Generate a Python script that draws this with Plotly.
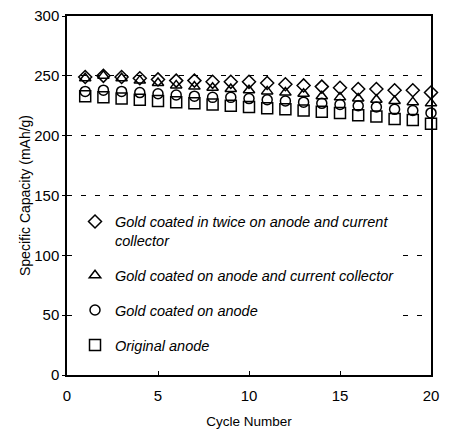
import plotly.graph_objects as go

cycles = list(range(1, 21))
twice_anode_collector = [249, 250, 249, 248, 247, 246, 246, 245, 245, 245, 244, 243, 242, 241, 240, 239, 239, 238, 238, 236]
anode_collector = [248, 250, 248, 246, 244, 242, 241, 240, 239, 238, 237, 236, 235, 233, 232, 231, 230, 229, 228, 227]
anode_only = [237, 238, 237, 236, 235, 234, 233, 232, 232, 231, 230, 229, 228, 227, 226, 225, 224, 222, 221, 219]
original = [233, 232, 231, 230, 229, 228, 227, 226, 225, 224, 223, 222, 221, 220, 219, 217, 216, 214, 213, 210]

series_names = [
    "Gold coated in twice on anode and current<br>collector",
    "Gold coated on anode and current collector",
    "Gold coated on anode",
    "Original anode",
]
x_ticks = [0, 5, 10, 15, 20]
y_ticks = [0, 50, 100, 150, 200, 250, 300]

sans = "Liberation Sans, Arial, sans-serif"

fig = go.Figure()
series = [twice_anode_collector, anode_collector, anode_only, original]
symbols = ["diamond-open", "triangle-up-open", "circle-open", "square-open"]
sizes = [10, 10, 10, 11]
for i, (vals, name, sym, sz) in enumerate(zip(series, series_names, symbols, sizes)):
    fig.add_trace(go.Scatter(
        x=cycles, y=vals, mode="markers", name=name, legendgroup=f"g{i}",
        marker=dict(symbol=sym, size=sz, color="black", line=dict(color="black", width=1.5)),
        cliponaxis=False,
    ))

fig.update_layout(
    width=441, height=421,
    margin=dict(l=59, r=18, t=8, b=54, autoexpand=False),
    paper_bgcolor="white", plot_bgcolor="white",
    showlegend=True,
    legend=dict(
        x=0.022, y=0.472, xanchor="left", yanchor="top",
        bgcolor="white", borderwidth=0,
        font=dict(family=sans, size=14.5, color="black", style="italic"),
        tracegroupgap=13, valign="top", itemwidth=30,
    ),
    font=dict(family=sans, color="black"),
)
fig.update_xaxes(
    range=[0, 20], tickvals=x_ticks, ticktext=[str(v) for v in x_ticks],
    showline=True, linecolor="black", linewidth=1.5, mirror=True,
    ticks="inside", ticklen=4, tickcolor="black", ticklabelstandoff=6,
    ticklabeloverflow="allow",
    showgrid=False, zeroline=False, automargin=False,
    tickfont=dict(family=sans, size=15, color="black"),
    title=dict(text="Cycle Number", font=dict(family=sans, size=13.5, color="black"), standoff=15),
)
fig.update_yaxes(
    range=[0, 300], tickvals=y_ticks, ticktext=[str(v) for v in y_ticks],
    showline=True, linecolor="black", linewidth=1.5, mirror=True,
    ticks="outside", ticklen=3, tickcolor="black",
    ticklabeloverflow="allow",
    showgrid=True, gridcolor="black", gridwidth=1, griddash="5px,9px",
    zeroline=False, automargin=False,
    tickfont=dict(family=sans, size=15, color="black"),
    title=dict(text="Specific Capacity (mAh/g)", font=dict(family=sans, size=14, color="black"), standoff=0),
)

fig.write_html("out.html")
